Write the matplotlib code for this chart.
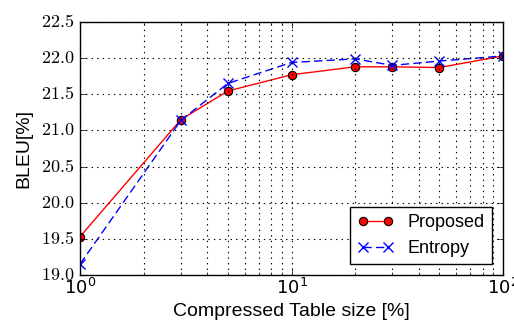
import matplotlib
matplotlib.use('Agg')
import matplotlib.pyplot as plt
from matplotlib.ticker import FixedLocator, FuncFormatter

plt.style.use('classic')
plt.rcParams['mathtext.fontset'] = 'cm'

# data
table_size = [1, 3, 5, 10, 20, 30, 50, 100]
bleu_proposed = [19.53, 21.15, 21.545, 21.77, 21.88, 21.88, 21.87, 22.03]
bleu_entropy = [19.15, 21.14, 21.65, 21.94, 21.99, 21.90, 21.96, 22.03]
yticks = [19.0, 19.5, 20.0, 20.5, 21.0, 21.5, 22.0, 22.5]

fig = plt.figure(figsize=(5.14, 3.24), dpi=100, facecolor='white')
ax = fig.add_axes([80/514, 1 - 275/324, 423/514, 253/324])

ax.plot(table_size, bleu_proposed, 'r-o', ms=6, mec='black', mew=0.8, lw=1, label='Proposed')
ax.plot(table_size, bleu_entropy, 'b--x', ms=7, mew=1, lw=1, dashes=(6, 3), label='Entropy')

ax.set_xscale('log')
ax.set_xlim(1, 100)
ax.set_ylim(19.0, 22.5)
ax.yaxis.set_major_locator(FixedLocator(yticks))
ax.yaxis.set_major_formatter(FuncFormatter(lambda v, p: r'$%.1f$' % v))
ax.grid(True, which='both', linestyle=':', color='black', lw=0.8)

ax.set_xlabel('Compressed Table size [%]', fontsize=14, family='Liberation Sans', labelpad=4)
ax.set_ylabel('BLEU[%]', fontsize=14, family='Liberation Sans', labelpad=6)
ax.tick_params(labelsize=13)
ax.tick_params(axis='x', which='both', pad=2)

leg = ax.legend(loc='lower right', numpoints=2, fancybox=False, borderaxespad=0.6,
                handlelength=2.0, prop={'family': 'Liberation Sans', 'size': 13})

fig.savefig('out.png', dpi=100, facecolor='white')
